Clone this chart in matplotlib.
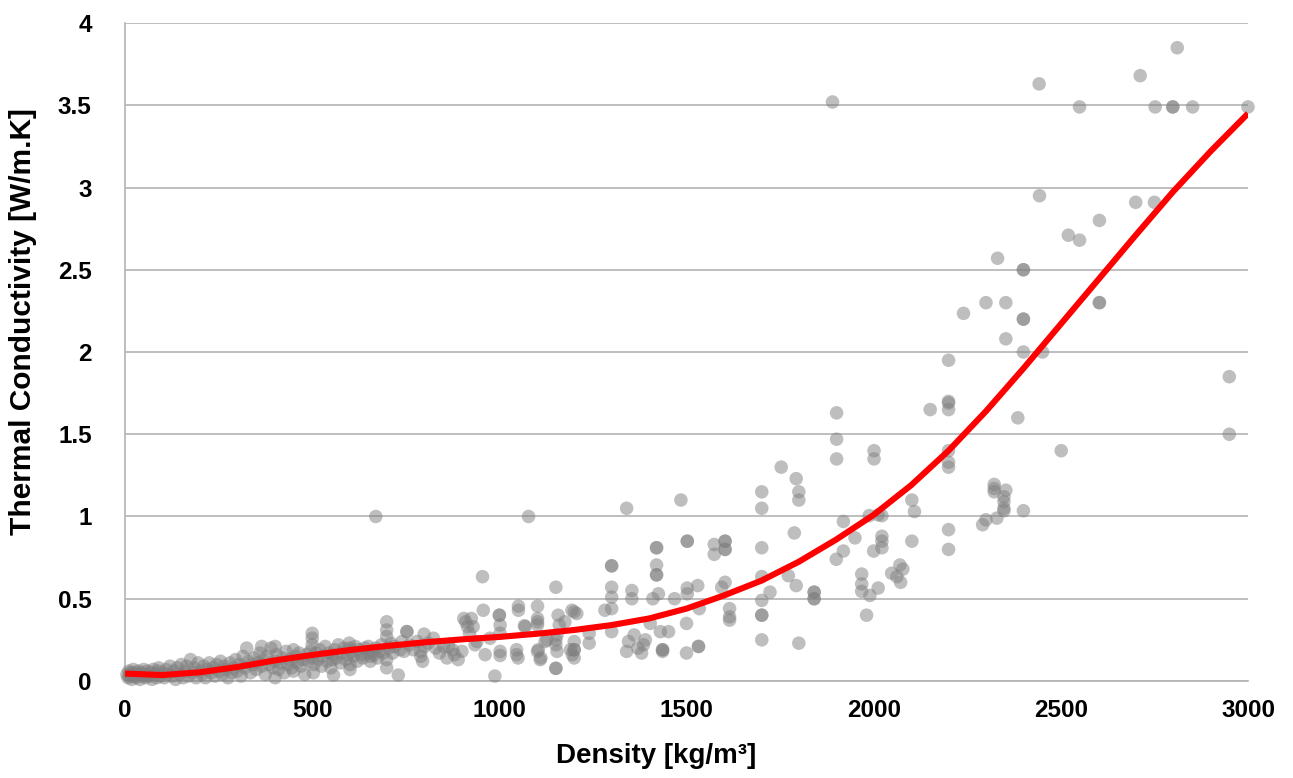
import numpy as np
import matplotlib
matplotlib.use('Agg')
import matplotlib.pyplot as plt

# scatter data: density [kg/m3], conductivity [W/m.K]
density = [
    5, 8, 10, 12, 15, 18, 20, 22, 25, 28, 30, 35, 38, 40, 45, 48, 50, 55, 58, 60,
    65, 70, 72, 75, 80, 85, 88, 90, 95, 100, 105, 110, 115, 120, 125, 130, 135, 140, 145, 150,
    155, 160, 165, 170, 175, 180, 185, 190, 195, 200, 205, 210, 215, 220, 225, 230, 235, 240, 245, 250,
    255, 260, 265, 270, 275, 280, 285, 290, 295, 300,
    305, 310, 315, 320, 325, 330, 335, 340, 345, 350, 355, 360, 365, 365, 370, 375, 380, 385, 390, 395,
    400, 401, 401, 405, 410, 415, 420, 425, 430, 435, 440, 445, 450, 450, 455, 460, 465, 470, 475, 480,
    485, 490, 495, 500, 500, 500, 500, 503, 505,
    510, 515, 520, 525, 530, 535, 540, 545, 550, 555, 555, 557, 560, 565, 570, 575, 580, 585, 590, 595,
    599, 601, 601, 601, 605, 610, 615, 620, 625, 630, 635, 640, 645, 650, 655, 655, 660, 665, 670, 670,
    675, 680, 685, 690, 699, 699, 699, 699, 699,
    705, 710, 715, 720, 730, 735, 740, 745, 753, 753, 760, 770, 780, 790, 790, 795, 799, 800, 810, 824,
    830, 840, 851, 860, 865, 875, 880, 890, 900, 905, 910, 915, 920, 925, 930, 935, 940, 955, 957, 962,
    975, 988, 1000, 1000, 1002, 1002, 1002, 1002,
    1046, 1046, 1050, 1051, 1051, 1067, 1069, 1078, 1102, 1102, 1102, 1102, 1102, 1104, 1109, 1111, 1122, 1127,
    1151, 1151, 1151, 1151, 1151, 1154, 1154, 1157, 1160, 1175, 1190, 1194, 1195, 1200, 1200, 1200, 1200, 1200,
    1207, 1240, 1240,
    1282, 1300, 1300, 1300, 1300, 1300, 1300, 1340, 1340, 1345, 1354, 1354, 1360, 1370, 1380, 1385, 1390,
    1403, 1410, 1420, 1420, 1420, 1420, 1420, 1425, 1430, 1436, 1436, 1436, 1452, 1468, 1485, 1500, 1500,
    1502, 1502, 1502, 1502, 1530, 1532, 1532, 1534, 1574, 1574, 1594, 1603, 1603, 1603, 1603, 1603,
    1615, 1615, 1615,
    1701, 1701, 1701, 1701, 1701, 1701, 1701, 1701, 1723, 1753, 1772, 1788, 1793, 1793, 1800, 1800, 1800,
    1841, 1841, 1841, 1841, 1890, 1901, 1901, 1901, 1900, 1919, 1919, 1950, 1968, 1968, 1968, 1981, 1988,
    1990, 2000, 2001, 2001, 2012, 2012, 2022, 2022, 2022, 2022, 2048, 2062, 2070, 2072, 2078,
    2102, 2102, 2109, 2151, 2200, 2200, 2200, 2200, 2200, 2200, 2200, 2200, 2200, 2240, 2291, 2300, 2300,
    2322, 2322, 2322, 2329, 2331, 2348, 2348, 2348, 2348, 2353, 2353, 2353, 2385, 2400, 2400, 2400, 2400,
    2400, 2400, 2442, 2443, 2451, 2501, 2520, 2550, 2550, 2603, 2603, 2603, 2700, 2712, 2750, 2752,
    2799, 2799, 2811, 2852, 2950, 2950, 3000,
]
conductivity = [
    0.04, 0.02, 0.06, 0.03, 0.05, 0.01, 0.04, 0.07, 0.03, 0.05, 0.02, 0.06, 0.04, 0.01, 0.05, 0.03, 0.07, 0.02, 0.04, 0.06,
    0.03, 0.05, 0.01, 0.07, 0.04, 0.02, 0.06, 0.08, 0.03, 0.05, 0.02, 0.07, 0.04, 0.09, 0.03, 0.06, 0.01, 0.08, 0.04, 0.10,
    0.02, 0.06, 0.09, 0.03, 0.13, 0.05, 0.08, 0.02, 0.11, 0.06, 0.04, 0.09, 0.02, 0.07, 0.11, 0.05, 0.08, 0.03, 0.10, 0.06,
    0.12, 0.04, 0.09, 0.07, 0.02, 0.11, 0.05, 0.08, 0.13, 0.06,
    0.10, 0.03, 0.15, 0.08, 0.20, 0.12, 0.05, 0.10, 0.14, 0.07, 0.11, 0.17, 0.21, 0.09, 0.13, 0.04, 0.15, 0.10, 0.20, 0.08,
    0.12, 0.21, 0.02, 0.16, 0.07, 0.11, 0.14, 0.05, 0.18, 0.10, 0.13, 0.08, 0.19, 0.06, 0.15, 0.11, 0.17, 0.09, 0.13, 0.04,
    0.16, 0.12, 0.18, 0.29, 0.26, 0.22, 0.14, 0.05, 0.10,
    0.17, 0.13, 0.19, 0.09, 0.15, 0.21, 0.12, 0.17, 0.08, 0.13, 0.16, 0.036, 0.19, 0.14, 0.22, 0.11, 0.17, 0.20, 0.13, 0.16,
    0.23, 0.20, 0.10, 0.07, 0.18, 0.15, 0.21, 0.12, 0.19, 0.16, 0.14, 0.20, 0.17, 0.21, 0.12, 0.15, 0.18, 0.16, 1.00, 0.20,
    0.14, 0.18, 0.22, 0.17, 0.36, 0.31, 0.27, 0.13, 0.08,
    0.20, 0.23, 0.17, 0.21, 0.036, 0.19, 0.24, 0.18, 0.30, 0.30, 0.22, 0.19, 0.24, 0.18, 0.15, 0.12, 0.285, 0.21, 0.23, 0.26,
    0.20, 0.17, 0.21, 0.14, 0.21, 0.19, 0.16, 0.13, 0.18, 0.38, 0.36, 0.33, 0.29, 0.38, 0.33, 0.22, 0.24, 0.634, 0.43, 0.16,
    0.26, 0.03, 0.40, 0.40, 0.34, 0.29, 0.18, 0.155,
    0.16, 0.19, 0.14, 0.455, 0.43, 0.336, 0.33, 1.00, 0.455, 0.38, 0.36, 0.34, 0.18, 0.19, 0.13, 0.14, 0.24, 0.25,
    0.57, 0.25, 0.22, 0.077, 0.077, 0.28, 0.18, 0.40, 0.34, 0.36, 0.19, 0.43, 0.16, 0.42, 0.24, 0.19, 0.19, 0.14,
    0.41, 0.29, 0.23,
    0.43, 0.70, 0.70, 0.57, 0.51, 0.44, 0.30, 1.05, 0.18, 0.24, 0.55, 0.50, 0.28, 0.20, 0.17, 0.22, 0.25,
    0.35, 0.50, 0.81, 0.81, 0.705, 0.645, 0.645, 0.53, 0.30, 0.19, 0.19, 0.18, 0.30, 0.50, 1.10, 0.35, 0.17,
    0.85, 0.85, 0.565, 0.53, 0.58, 0.21, 0.21, 0.44, 0.83, 0.77, 0.57, 0.85, 0.85, 0.80, 0.80, 0.60,
    0.44, 0.39, 0.37,
    1.15, 1.05, 0.81, 0.635, 0.49, 0.40, 0.40, 0.25, 0.54, 1.30, 0.64, 0.90, 1.23, 0.58, 1.15, 1.10, 0.23,
    0.54, 0.54, 0.50, 0.50, 3.52, 1.63, 1.47, 1.35, 0.74, 0.97, 0.79, 0.87, 0.65, 0.59, 0.545, 0.40, 1.005,
    0.52, 0.79, 1.40, 1.35, 1.01, 0.565, 1.005, 0.88, 0.85, 0.81, 0.655, 0.634, 0.705, 0.60, 0.68,
    1.10, 0.85, 1.03, 1.65, 1.95, 1.70, 1.69, 1.65, 1.40, 1.33, 1.30, 0.92, 0.80, 2.235, 0.95, 2.30, 0.98,
    1.195, 1.17, 1.15, 0.99, 2.57, 1.12, 1.09, 1.05, 1.035, 2.30, 2.08, 1.16, 1.60, 2.50, 2.50, 2.20, 2.20,
    2.00, 1.035, 3.63, 2.95, 2.00, 1.40, 2.71, 3.49, 2.68, 2.80, 2.30, 2.30, 2.91, 3.68, 2.91, 3.49,
    3.49, 3.49, 3.85, 3.49, 1.85, 1.50, 3.49,
]

# trend line, every 100 kg/m3
trend_x = [0, 100, 200, 300, 400, 500, 600, 700, 800, 900, 1000, 1100, 1200, 1300, 1400, 1500,
           1600, 1700, 1800, 1900, 2000, 2100, 2200, 2300, 2400, 2500, 2600, 2700, 2800, 2900, 3000]
trend_y = [0.045, 0.036, 0.053, 0.085, 0.125, 0.158, 0.188, 0.213, 0.235, 0.253, 0.268, 0.287, 0.31,
           0.34, 0.38, 0.44, 0.52, 0.61, 0.725, 0.86, 1.01, 1.19, 1.40, 1.64, 1.90, 2.17, 2.44, 2.71,
           2.975, 3.22, 3.45]

x_ticks = [0, 500, 1000, 1500, 2000, 2500, 3000]
y_ticks = [0, 0.5, 1, 1.5, 2, 2.5, 3, 3.5, 4]
y_tick_labels = ['0', '0.5', '1', '1.5', '2', '2.5', '3', '3.5', '4']

plt.rcParams['font.family'] = ['Liberation Sans', 'DejaVu Sans']
plt.rcParams['font.weight'] = 'bold'

fig = plt.figure(figsize=(12.93, 7.78), dpi=100)
ax = fig.add_axes([0.0967, 0.1247, 0.8685, 0.8457])

grid_col = '#b3b3b3'
ax.scatter(density, conductivity, s=95, color='#7f7f7f', alpha=0.5,
           edgecolors='none', zorder=3, clip_on=False)
ax.plot(trend_x, trend_y, color='#ff0000', linewidth=4.4, zorder=4,
        solid_capstyle='butt', solid_joinstyle='round')

ax.set_xlim(0, 3000)
ax.set_ylim(0, 4)
ax.set_xticks(x_ticks)
ax.set_yticks(y_ticks)
ax.set_yticklabels(y_tick_labels)
ax.tick_params(axis='both', length=0, labelsize=17.5)
ax.tick_params(axis='x', pad=13)
ax.tick_params(axis='y', pad=24)
for lab in ax.get_xticklabels() + ax.get_yticklabels():
    lab.set_fontweight('bold')

ax.grid(axis='y', color=grid_col, linewidth=1.2, zorder=0)
ax.set_axisbelow(True)
for side in ['top', 'right']:
    ax.spines[side].set_visible(False)
ax.spines['left'].set_color(grid_col)
ax.spines['bottom'].set_color(grid_col)
ax.spines['left'].set_linewidth(1.2)
ax.spines['bottom'].set_linewidth(1.2)

ax.set_xlabel('Density [kg/m³]', fontsize=20, fontweight='bold')
ax.set_ylabel('Thermal Conductivity [W/m.K]', fontsize=21.5, fontweight='bold')
ax.xaxis.set_label_coords(0.473, -0.095)
ax.yaxis.set_label_coords(-0.078, 0.546)

fig.savefig('out.png', dpi=100)
